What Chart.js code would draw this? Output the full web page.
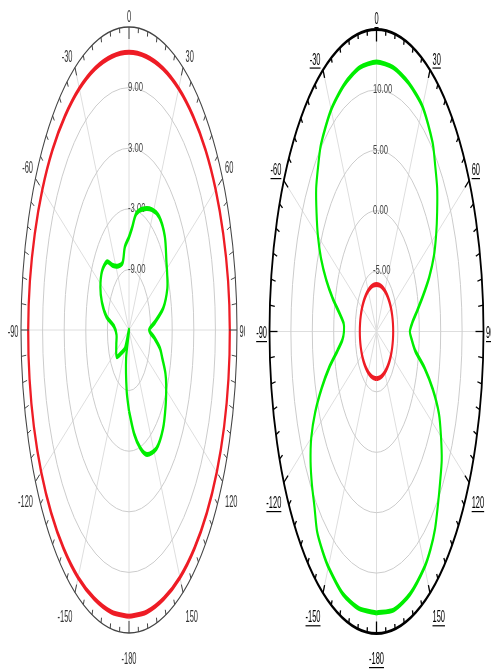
<!DOCTYPE html>
<html>
<head>
<meta charset="utf-8">
<script src="https://cdn.jsdelivr.net/npm/chart.js@4.4.0/dist/chart.umd.min.js"></script>
<style>
  html, body { margin: 0; padding: 0; background: #fff; }
  #wrap { position: relative; width: 491px; height: 669px; overflow: hidden; }
  canvas { position: absolute; top: 0; }
</style>
</head>
<body>
<div id="wrap">
  <canvas id="leftPlot" width="245" height="669" style="left:0"></canvas>
  <canvas id="rightPlot" width="246" height="669" style="left:245px"></canvas>
</div>
<script>
// angle labels round the rim (degrees)
const angleLabels = [0, 30, 60, 90, 120, 150, -180, -150, -120, -90, -60, -30];

// left plot: rings in dB
const leftRings = [-9, -3, 3, 9];
// right plot: rings in dB
const rightRings = [-5, 0, 5, 10];

// red traces, read every 10 degrees
const redAngles = [-180, -170, -160, -150, -140, -130, -120, -110, -100, -90, -80, -70, -60, -50, -40, -30, -20, -10, 0,
                   10, 20, 30, 40, 50, 60, 70, 80, 90, 100, 110, 120, 130, 140, 150, 160, 170, 180];
const leftRedDb = [13.35, 13.35, 13.3, 13.3, 13.25, 13.2, 13.15, 13.1, 13.05, 13.0, 12.95, 12.85, 12.8, 12.75, 12.65, 12.6, 12.55, 12.5, 12.5,
                   12.5, 12.55, 12.6, 12.65, 12.75, 12.8, 12.85, 12.95, 13.0, 13.05, 13.1, 13.15, 13.2, 13.25, 13.3, 13.3, 13.35, 13.35];
const rightRedDb = [-6.1, -6.1, -6.1, -6.1, -6.1, -6.1, -6.1, -6.1, -6.1, -6.1, -6.1, -6.1, -6.1, -6.1, -6.1, -6.1, -6.1, -6.1, -6.1,
                    -6.1, -6.1, -6.1, -6.1, -6.1, -6.1, -6.1, -6.1, -6.1, -6.1, -6.1, -6.1, -6.1, -6.1, -6.1, -6.1, -6.1, -6.1];

// green trace, left plot
const leftGreenAngles = [-180, -174, -164, -156, -149, -138, -128, -112, -98, -85, -78, -70, -62, -52, -42,
                         -35, -25, -15, -8, 0, 5, 10, 18, 28, 37, 47, 57, 62, 69, 77,
                         84, 90, 96, 102, 107, 113, 118, 126, 136, 147, 158, 165, 172, 180];
const leftGreenDb = [-7.0, -8.9, -12.1, -15, -12.9, -12.0, -10.7, -11.2, -11.5, -10.8, -8.6, -7.0, -6.0, -5.5, -5.9,
                     -7.2, -8.0, -8.1, -6.7, -5.8, -4.8, -3.3, -2.4, -1.5, -1.0, -1.4, -2.6, -3.0, -3.6, -5.2,
                     -7.8, -9.4, -8.0, -6.2, -5.3, -4.0, -3.3, -2.4, -1.4, -1.0, -1.7, -2.9, -4.6, -7.0];

// green trace, right plot
const rightGreenAngles = [-180, -170, -160, -150, -145, -140, -135, -130, -125, -120, -115, -110, -105, -100, -95,
                          -90, -85, -80, -75, -70, -65, -60, -55, -50, -45, -40, -30, -20, -10, 0,
                          10, 20, 30, 40, 45, 50, 55, 60, 65, 70, 75, 80, 85, 90, 95,
                          100, 105, 110, 115, 120, 125, 130, 135, 140, 145, 150, 160, 170, 180];
const rightGreenDb = [13.3, 13.3, 13.1, 12.5, 12.1, 11.6, 10.5, 9.7, 8.8, 7.6, 5.8, 3.6, 1.4, -0.7, -2.0,
                      -2.4, -2.3, -1.2, 0.6, 2.5, 4.3, 5.8, 7.1, 8.4, 9.3, 10.2, 11.2, 11.8, 12.2, 12.3,
                      12.2, 11.9, 11.5, 10.4, 9.4, 8.5, 7.3, 6.1, 4.8, 3.1, 1.2, -0.4, -1.6, -2.2, -1.7,
                      -0.8, 1.6, 4.0, 6.1, 7.4, 8.6, 9.4, 10.3, 11.3, 12.0, 12.5, 13.1, 13.4, 13.3];

const RAD = Math.PI / 180;
const FONT = '"Liberation Sans", Arial, sans-serif';

// polar (angle, dB) -> x/y in dB above the plot floor
function toXY(angles, db, rMin) {
  return angles.map((a, i) => {
    const r = Math.max(0, db[i] - rMin);
    return { x: r * Math.sin(a * RAD), y: r * Math.cos(a * RAD) };
  });
}

function geom(chart, o) {
  const xs = chart.scales.x, ys = chart.scales.y;
  const cx = xs.getPixelForValue(0), cy = ys.getPixelForValue(0);
  return {
    cx, cy,
    rx: v => xs.getPixelForValue(v) - cx,
    ry: v => cy - ys.getPixelForValue(v),
    R: o.rMax - o.rMin
  };
}

function narrowText(ctx, txt, x, y, k, align, underline) {
  ctx.save();
  ctx.translate(x, y);
  ctx.scale(k, 1);
  ctx.textAlign = align;
  ctx.fillText(txt, 0, 0);
  if (underline) {
    const w = ctx.measureText(txt).width;
    const x0 = align === 'left' ? 0 : align === 'right' ? -w : -w / 2;
    ctx.fillRect(x0, 7.5, w, 1.2);
  }
  ctx.restore();
}

// thick pen squashed sideways, like the original picture
function squishStroke(ctx, k) {
  const proto = CanvasRenderingContext2D.prototype;
  ctx.stroke = function (path) {
    this.save();
    this.setTransform(k, 0, 0, 1, 0, 0);
    if (path) {
      const p = new Path2D();
      p.addPath(path, new DOMMatrix([1 / k, 0, 0, 1, 0, 0]));
      proto.stroke.call(this, p);
    } else {
      proto.stroke.call(this);
    }
    this.restore();
  };
}

// grid, rim, ticks and labels of the squashed polar frame
const polarFrame = {
  id: 'polarFrame',
  beforeDatasetsDraw(chart, args, o) {
    const ctx = chart.ctx;
    const { cx, cy, rx, ry, R } = geom(chart, o);
    ctx.save();
    ctx.lineWidth = 1;
    ctx.strokeStyle = '#dedede';
    for (let a = 0; a < 360; a += 30) {
      ctx.beginPath();
      ctx.moveTo(cx, cy);
      ctx.lineTo(cx + rx(R) * Math.sin(a * RAD), cy - ry(R) * Math.cos(a * RAD));
      ctx.stroke();
    }
    ctx.strokeStyle = '#cccccc';
    o.rings.forEach(v => {
      ctx.beginPath();
      ctx.ellipse(cx, cy, rx(v - o.rMin), ry(v - o.rMin), 0, 0, 2 * Math.PI);
      ctx.stroke();
    });
    // ring labels
    ctx.fillStyle = o.ringLabelColor;
    ctx.font = '12px ' + FONT;
    ctx.textBaseline = 'middle';
    o.rings.forEach(v => {
      narrowText(ctx, v.toFixed(2), cx + o.ringLabelDx, cy - ry(v - o.rMin), 0.64, 'left', false);
    });
    ctx.restore();
    squishStroke(ctx, o.lineSquish);
  },
  afterDatasetsDraw(chart, args, o) {
    const ctx = chart.ctx;
    delete ctx.stroke;
    const { cx, cy, rx, ry, R } = geom(chart, o);
    const ax = rx(R), by = ry(R);
    ctx.save();
    // rim, with its own squashed pen
    squishStroke(ctx, o.rimSquish);
    ctx.strokeStyle = o.rimColor;
    ctx.lineWidth = o.rimWidth;
    ctx.beginPath();
    ctx.ellipse(cx, cy, ax, by, 0, 0, 2 * Math.PI);
    ctx.stroke();
    delete ctx.stroke;
    // ticks every 5 degrees, pointing to the centre
    ctx.lineWidth = o.tickWidth;
    for (let a = -175; a <= 180; a += 5) {
      const ex = cx + ax * Math.sin(a * RAD), ey = cy - by * Math.cos(a * RAD);
      const n = Math.hypot(cx - ex, cy - ey);
      const len = a % 180 === 0 ? 12 : a % 30 === 0 ? 8 : 5;
      ctx.beginPath();
      ctx.moveTo(ex, ey);
      ctx.lineTo(ex + (cx - ex) / n * len, ey + (cy - ey) / n * len);
      ctx.stroke();
    }
    // angle labels
    ctx.fillStyle = o.labelColor;
    ctx.font = '17px ' + FONT;
    ctx.textBaseline = 'middle';
    angleLabels.forEach(a => {
      const s = Math.sin(a * RAD), c = Math.cos(a * RAD);
      const ex = cx + ax * s, ey = cy - by * c;
      const y = Math.abs(c) < 0.01 ? ey + 2 : (c > 0 ? ey - 10 : ey + 16 - 10 * c);
      const align = Math.abs(s) < 0.01 ? 'center' : (s > 0 ? 'left' : 'right');
      const x = ex + (align === 'center' ? 0 : (s > 0 ? 2.5 : -2.5));
      narrowText(ctx, String(a), x, y, 0.44, align, o.underline);
    });
    ctx.restore();
  }
};

function makePlot(id, o, series) {
  const span = o.rMax - o.rMin;
  return new Chart(document.getElementById(id), {
    type: 'scatter',
    data: {
      datasets: series.map(s => ({
        data: toXY(s.angles, s.db, o.rMin),
        showLine: true,
        borderColor: s.color,
        borderWidth: 5,
        pointRadius: 0,
        tension: s.tension,
        fill: false,
        clip: false
      }))
    },
    options: {
      responsive: false,
      animation: false,
      events: [],
      layout: { padding: o.padding },
      scales: {
        x: { type: 'linear', min: -span, max: span, display: false },
        y: { type: 'linear', min: -span, max: span, display: false }
      },
      plugins: { legend: { display: false }, tooltip: { enabled: false }, polarFrame: o }
    },
    plugins: [polarFrame]
  });
}

makePlot('leftPlot', {
  rMin: -15, rMax: 15, rings: leftRings,
  padding: { left: 21, right: 8, top: 27, bottom: 36 },
  ringLabelDx: -1, ringLabelColor: '#444',
  rimColor: '#444', rimWidth: 1.5, rimSquish: 0.7, tickWidth: 1, labelColor: '#333', underline: false,
  lineSquish: 0.45
}, [
  { angles: redAngles, db: leftRedDb, color: '#ee1c25', tension: 0.35 },
  { angles: leftGreenAngles, db: leftGreenDb, color: '#00ee00', tension: 0.3 }
]);

makePlot('rightPlot', {
  rMin: -10, rMax: 15, rings: rightRings,
  padding: { left: 24.5, right: 7.5, top: 29.5, bottom: 35.5 },
  ringLabelDx: -3.5, ringLabelColor: '#444',
  rimColor: '#000', rimWidth: 3, rimSquish: 0.6, tickWidth: 1.3, labelColor: '#000', underline: true,
  lineSquish: 0.42
}, [
  { angles: rightGreenAngles, db: rightGreenDb, color: '#00ee00', tension: 0.25 },
  { angles: redAngles, db: rightRedDb, color: '#ee1c25', tension: 0.35 }
]);
</script>
</body>
</html>
